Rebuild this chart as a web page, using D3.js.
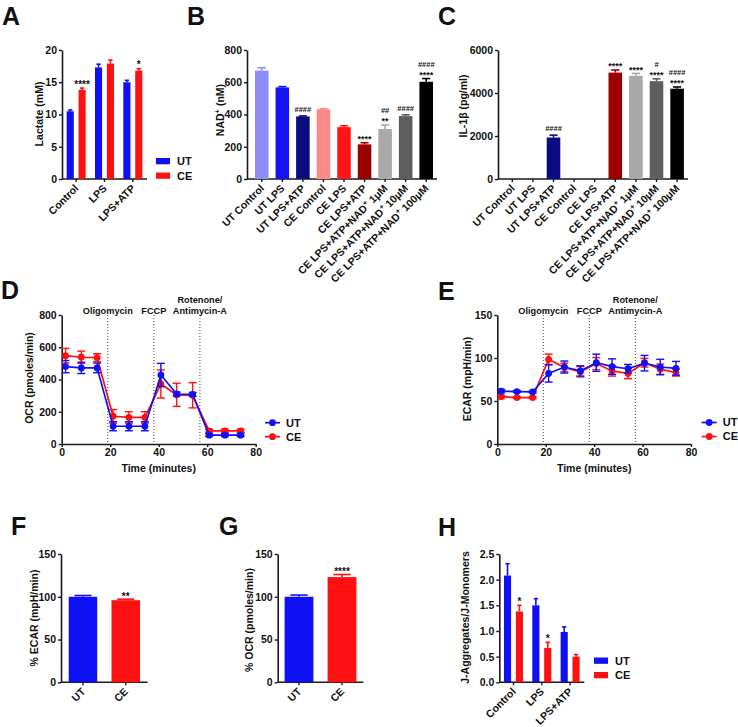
<!DOCTYPE html>
<html><head><meta charset="utf-8">
<script src="https://cdn.jsdelivr.net/npm/d3@7"></script>
<style>
body{margin:0;background:#fff;}
svg text{font-family:"Liberation Sans",Arial,Helvetica,sans-serif;font-weight:bold;fill:#111;}
</style></head><body>
<svg id="fig" width="738" height="727"></svg>
<script>
// ================= DATA =================
const seriesNames = ["UT", "CE"];

// A: Lactate (mM)
const lactateGroups = ["Control", "LPS", "LPS+ATP"];
const lactateUT = [10.5, 17.3, 15.0];
const lactateUTErr = [0.2, 0.5, 0.3];
const lactateCE = [13.8, 17.9, 16.8];
const lactateCEErr = [0.3, 0.55, 0.3];
const lactateCESig = [["****"], [], ["*"]];

// B: NAD+ (nM)
const nadCats = ["UT Control", "UT LPS", "UT LPS+ATP", "CE Control", "CE LPS", "CE LPS+ATP",
  "CE LPS+ATP+NAD^+ 1μM", "CE LPS+ATP+NAD^+ 10μM", "CE LPS+ATP+NAD^+ 100μM"];
const nadValues = [672, 568, 388, 432, 322, 215, 310, 390, 603];
const nadErr = [18, 5, 3, 3, 8, 10, 25, 8, 20];
const nadSig = [[], [], ["####"], [], [], ["****"], ["##", "**"], ["####"], ["####", "****"]];

// C: IL-1β (pg/ml)
const il1Cats = nadCats;
const il1Values = [0, 0, 1930, 0, 0, 4950, 4800, 4550, 4200];
const il1Err = [0, 0, 110, 0, 0, 120, 110, 110, 80];
const il1Sig = [[], [], ["####"], [], [], ["****"], ["****"], ["#", "****"], ["####", "****"]];

// D / E: Seahorse time course
const timeMin = [1.6, 8.1, 14.6, 21.2, 27.7, 34.3, 40.9, 47.4, 54.0, 60.8, 67.3, 73.8];
const injectTimes = [19, 38, 57];
const injectLabels = [["Oligomycin"], ["FCCP"], ["Rotenone/", "Antimycin-A"]];
const ocrUT = [480, 472, 472, 110, 110, 110, 428, 310, 308, 55, 55, 55];
const ocrUTErr = [38, 35, 30, 28, 28, 28, 72, 12, 12, 8, 8, 8];
const ocrCE = [548, 538, 535, 172, 165, 165, 372, 305, 302, 82, 82, 82];
const ocrCEErr = [45, 38, 25, 42, 35, 35, 87, 72, 78, 10, 10, 10];
const ecarUT = [61.5, 61, 60.5, 82, 89.5, 85, 94.5, 90, 87.5, 94, 89.5, 88];
const ecarUTErr = [2, 1, 1, 10, 7, 6, 10, 9, 5, 9, 9, 8];
const ecarCE = [55, 54, 54, 98.5, 89, 84, 93.5, 85, 82, 94.5, 87, 83];
const ecarCEErr = [1.5, 1, 1, 6, 5, 6, 7, 6, 6, 5, 6, 4];

// F: % ECAR, G: % OCR
const pctCats = ["UT", "CE"];
const ecarPct = [100, 96];
const ecarPctErr = [1.5, 1.2];
const ecarPctSig = [[], ["**"]];
const ocrPct = [100, 123];
const ocrPctErr = [2, 3];
const ocrPctSig = [[], ["****"]];

// H: J-Aggregates / J-Monomers
const jcGroups = ["Control", "LPS", "LPS+ATP"];
const jcUT = [2.08, 1.5, 0.98];
const jcUTErr = [0.23, 0.13, 0.1];
const jcCE = [1.38, 0.67, 0.5];
const jcCEErr = [0.12, 0.11, 0.04];
const jcCESig = [["*"], ["*"], []];

// ================= STYLE =================
const BLUE = "#1010f5", RED = "#ff1010", INK = "#1a1a1a";
const seriesColors = {UT: BLUE, CE: RED};
const nadColors = ["#8c8cf6", "#1414f2", "#0b0b82", "#ff8787", "#ff1616", "#9a0000", "#a9a9a9", "#5e5e5e", "#000000"];
const TICK_FS = 10.5, TITLE_FS = 10.5;

const svg = d3.select("#fig");

function rich(t, str, fs) {
  const parts = str.split("^+");
  parts.forEach((p, i) => {
    if (i > 0) {
      t.append("tspan").attr("dy", -4).attr("font-size", fs * 0.72).text("+");
      t.append("tspan").attr("dy", 4).text(p);
    } else t.append("tspan").text(p);
  });
}
function letter(s, x, y) {
  svg.append("text").attr("x", x).attr("y", y).attr("font-size", 25).text(s);
}
function styleAxis(a) {
  a.select(".domain").attr("stroke", INK).attr("stroke-width", 1.6);
  a.selectAll(".tick line").attr("stroke", INK).attr("stroke-width", 1.4);
  a.selectAll(".tick text").attr("font-size", TICK_FS);
}
function yTitle(str, cx, cy, fs) {
  const t = svg.append("text").attr("transform", `translate(${cx},${cy}) rotate(-90)`)
    .attr("text-anchor", "middle").attr("dy", "0.35em").attr("font-size", fs || TITLE_FS);
  rich(t, str, fs || TITLE_FS);
}

// ---------- bar panel ----------
function barPanel(cfg) {
  const y = d3.scaleLinear().domain(cfg.yDomain).range([cfg.yBottom, cfg.yTop]);
  const x = d3.scaleBand().domain(cfg.cats).range(cfg.xRange)
    .paddingInner(cfg.pI || 0).paddingOuter(cfg.pO || 0);
  const grouped = cfg.series.length > 1;
  const x1 = d3.scaleBand().domain(cfg.series.map(s => s.name))
    .range(cfg.innerRange || [-9.5, 9.5]).paddingInner(0.4);
  const bw = grouped ? x1.bandwidth() : x.bandwidth();

  const ya = svg.append("g").attr("transform", `translate(${cfg.axisX},0)`)
    .call(d3.axisLeft(y).tickValues(cfg.yTicks).tickFormat(cfg.yFmt || d3.format("d"))
      .tickSize(3).tickSizeOuter(0).tickPadding(2));
  styleAxis(ya);
  const xa = svg.append("g").attr("transform", `translate(0,${y(0)})`)
    .call(d3.axisBottom(x).tickSize(3).tickFormat(""));
  xa.select(".domain").remove();
  styleAxis(xa);
  svg.append("line").attr("x1", cfg.axisX).attr("x2", cfg.axisEnd)
    .attr("y1", y(0)).attr("y2", y(0)).attr("stroke", INK).attr("stroke-width", 1.6);

  cfg.series.forEach(s => {
    const data = cfg.cats.map((c, i) => ({
      c, v: s.values[i], e: s.errs[i],
      col: Array.isArray(s.color) ? s.color[i] : s.color,
      sig: s.sig ? s.sig[i] : []
    }));
    const bx = d => grouped ? x(d.c) + x.bandwidth() / 2 + x1(s.name) : x(d.c);
    const g = svg.append("g");
    g.selectAll("rect").data(data.filter(d => d.v > 0)).join("rect")
      .attr("x", bx).attr("y", d => y(d.v)).attr("width", bw)
      .attr("height", d => y(0) - y(d.v)).attr("fill", d => d.col);
    const ed = data.filter(d => d.e > 0);
    g.selectAll("line.ev").data(ed).join("line").attr("class", "ev")
      .attr("x1", d => bx(d) + bw / 2).attr("x2", d => bx(d) + bw / 2)
      .attr("y1", d => y(d.v)).attr("y2", d => y(d.v + d.e))
      .attr("stroke", d => d.col).attr("stroke-width", 1.6);
    g.selectAll("line.ec").data(ed).join("line").attr("class", "ec")
      .attr("x1", d => bx(d) + bw * 0.2).attr("x2", d => bx(d) + bw * 0.8)
      .attr("y1", d => y(d.v + d.e)).attr("y2", d => y(d.v + d.e))
      .attr("stroke", d => d.col).attr("stroke-width", 1.6);
    data.forEach(d => {
      const cap = y(d.v + d.e);
      const marks = d.sig.slice().reverse();
      marks.forEach((m, i) => {
        const isHash = m[0] === "#";
        const fs = isHash ? cfg.hashFs : cfg.starFs;
        const base = isHash ? cap - 4 - 8 * i : cap - cfg.starLift - 8 * i;
        svg.append("text").attr("x", bx(d) + bw / 2).attr("y", base)
          .attr("text-anchor", "middle").attr("font-size", fs)
          .style("fill", "#111").text(m);
      });
    });
  });

  cfg.cats.forEach(c => {
    const cx = x(c) + x.bandwidth() / 2;
    const t = svg.append("text")
      .attr("transform", `translate(${cx + 3},${y(0) + 10}) rotate(-45)`)
      .attr("text-anchor", "end").attr("font-size", TICK_FS);
    rich(t, c, TICK_FS);
  });
  return {x, y};
}

// ---------- line panel ----------
function linePanel(cfg) {
  const x = d3.scaleLinear().domain([0, 80]).range([cfg.x0, cfg.x1]);
  const y = d3.scaleLinear().domain(cfg.yDomain).range([cfg.yBottom, cfg.yTop]);
  const ya = svg.append("g").attr("transform", `translate(${cfg.x0},0)`)
    .call(d3.axisLeft(y).tickValues(cfg.yTicks).tickSize(3).tickSizeOuter(0).tickPadding(2));
  styleAxis(ya);
  const xa = svg.append("g").attr("transform", `translate(0,${cfg.yBottom})`)
    .call(d3.axisBottom(x).tickValues([0, 20, 40, 60, 80]).tickSize(3).tickSizeOuter(0).tickPadding(2));
  styleAxis(xa);
  svg.append("text").attr("x", (cfg.x0 + cfg.x1) / 2).attr("y", cfg.yBottom + 28)
    .attr("text-anchor", "middle").attr("font-size", TITLE_FS).text("Time (minutes)");

  injectTimes.forEach((t, i) => {
    svg.append("line").attr("x1", x(t)).attr("x2", x(t)).attr("y1", cfg.yTop).attr("y2", cfg.yBottom)
      .attr("stroke", "#444").attr("stroke-width", 1).attr("stroke-dasharray", "1,2");
    const lines = injectLabels[i];
    lines.forEach((l, j) => {
      svg.append("text").attr("x", x(t)).attr("y", cfg.yTop - 1.5 - (lines.length - 1 - j) * 10.5)
        .attr("text-anchor", "middle").attr("font-size", 9.2).text(l);
    });
  });

  cfg.series.forEach(s => {
    const data = timeMin.map((t, i) => ({t, v: s.values[i], e: s.errs[i]}));
    const g = svg.append("g");
    g.selectAll("line.ev").data(data).join("line").attr("class", "ev")
      .attr("x1", d => x(d.t)).attr("x2", d => x(d.t))
      .attr("y1", d => y(d.v - d.e)).attr("y2", d => y(d.v + d.e))
      .attr("stroke", s.color).attr("stroke-width", 1.4);
    [-1, 1].forEach(sg => {
      g.selectAll("line.c" + (sg + 1)).data(data).join("line").attr("class", "c" + (sg + 1))
        .attr("x1", d => x(d.t) - 4).attr("x2", d => x(d.t) + 4)
        .attr("y1", d => y(d.v + sg * d.e)).attr("y2", d => y(d.v + sg * d.e))
        .attr("stroke", s.color).attr("stroke-width", 1.4);
    });
    g.append("path").datum(data)
      .attr("d", d3.line().x(d => x(d.t)).y(d => y(d.v)))
      .attr("fill", "none").attr("stroke", s.color).attr("stroke-width", 1.7);
    g.selectAll("circle").data(data).join("circle")
      .attr("cx", d => x(d.t)).attr("cy", d => y(d.v)).attr("r", 3.4).attr("fill", s.color);
  });

  cfg.series.slice().reverse().forEach((s, i) => {
    const ly = cfg.legY + i * 14;
    svg.append("line").attr("x1", cfg.legX).attr("x2", cfg.legX + 15).attr("y1", ly).attr("y2", ly)
      .attr("stroke", s.color).attr("stroke-width", 1.7);
    svg.append("circle").attr("cx", cfg.legX + 7.5).attr("cy", ly).attr("r", 3.4).attr("fill", s.color);
    svg.append("text").attr("x", cfg.legX + 21).attr("y", ly).attr("dy", "0.35em")
      .attr("font-size", 11).text(s.name);
  });
}

function rectLegend(x0, y0) {
  seriesNames.forEach((n, i) => {
    svg.append("rect").attr("x", x0).attr("y", y0 + i * 14.5).attr("width", 14).attr("height", 6.3)
      .attr("fill", seriesColors[n]);
    svg.append("text").attr("x", x0 + 21).attr("y", y0 + i * 14.5 + 3.2).attr("dy", "0.35em")
      .attr("font-size", 11).text(n);
  });
}

// ================= PANELS =================
letter("A", 2, 25);
barPanel({
  cats: lactateGroups, xRange: [62, 147], axisX: 62, axisEnd: 147,
  yDomain: [0, 20], yTop: 50, yBottom: 179, yTicks: [0, 5, 10, 15, 20],
  series: [
    {name: "UT", values: lactateUT, errs: lactateUTErr, color: BLUE},
    {name: "CE", values: lactateCE, errs: lactateCEErr, color: RED, sig: lactateCESig}
  ],
  starFs: 10, hashFs: 8, starLift: 0.5
});
yTitle("Lactate (mM)", 39, 114);
rectLegend(156, 158);

letter("B", 187, 25);
barPanel({
  cats: nadCats, xRange: [251.5, 436.5], pI: 0.34, pO: 0.17, axisX: 247, axisEnd: 437,
  yDomain: [0, 800], yTop: 50, yBottom: 179, yTicks: [0, 200, 400, 600, 800],
  series: [{name: "NAD", values: nadValues, errs: nadErr, color: nadColors, sig: nadSig}],
  starFs: 9, hashFs: 7.5, starLift: 0.5
});
yTitle("NAD^+ (nM)", 220, 110);

letter("C", 438, 25);
barPanel({
  cats: il1Cats, xRange: [502, 687.4], pI: 0.34, pO: 0.17, axisX: 498, axisEnd: 688,
  yDomain: [0, 6000], yTop: 50, yBottom: 179, yTicks: [0, 2000, 4000, 6000],
  series: [{name: "IL1", values: il1Values, errs: il1Err, color: nadColors, sig: il1Sig}],
  starFs: 9, hashFs: 7.5, starLift: 0.5
});
yTitle("IL-1β (pg/ml)", 463, 106);

letter("D", 1, 299);
linePanel({
  x0: 61.7, x1: 255.7, yTop: 315, yBottom: 444, yDomain: [0, 800], yTicks: [0, 200, 400, 600, 800],
  series: [
    {name: "CE", values: ocrCE, errs: ocrCEErr, color: RED},
    {name: "UT", values: ocrUT, errs: ocrUTErr, color: BLUE}
  ],
  legX: 265, legY: 422.7
});
yTitle("OCR (pmoles/min)", 29, 378);

letter("E", 438, 300);
linePanel({
  x0: 497.3, x1: 691, yTop: 315, yBottom: 444, yDomain: [0, 150], yTicks: [0, 50, 100, 150],
  series: [
    {name: "CE", values: ecarCE, errs: ecarCEErr, color: RED},
    {name: "UT", values: ecarUT, errs: ecarUTErr, color: BLUE}
  ],
  legX: 701.7, legY: 422.5
});
yTitle("ECAR (mpH/min)", 467, 379);

letter("F", 11, 535);
barPanel({
  cats: pctCats, xRange: [61, 147.7], pI: 0.334, pO: 0.18, axisX: 61, axisEnd: 147.7,
  yDomain: [0, 150], yTop: 554, yBottom: 682.3, yTicks: [0, 50, 100, 150],
  series: [{name: "ECAR", values: ecarPct, errs: ecarPctErr, color: [BLUE, RED], sig: ecarPctSig}],
  starFs: 10, hashFs: 8, starLift: -0.5
});
yTitle("% ECAR (mpH/min)", 34, 618);

letter("G", 219, 535);
barPanel({
  cats: pctCats, xRange: [277.7, 363.3], pI: 0.33, pO: 0.16, axisX: 277.7, axisEnd: 363.3,
  yDomain: [0, 150], yTop: 554, yBottom: 682.3, yTicks: [0, 50, 100, 150],
  series: [{name: "OCR", values: ocrPct, errs: ocrPctErr, color: [BLUE, RED], sig: ocrPctSig}],
  starFs: 10, hashFs: 8, starLift: -0.5
});
yTitle("% OCR (pmoles/min)", 249, 620);

letter("H", 438, 536);
barPanel({
  cats: jcGroups, xRange: [499.3, 584.3], axisX: 499.3, axisEnd: 584.3,
  yDomain: [0, 2.5], yTop: 554, yBottom: 682.3, yTicks: [0, 0.5, 1, 1.5, 2, 2.5], yFmt: d3.format(".1f"),
  series: [
    {name: "UT", values: jcUT, errs: jcUTErr, color: BLUE},
    {name: "CE", values: jcCE, errs: jcCEErr, color: RED, sig: jcCESig}
  ],
  starFs: 10, hashFs: 8, starLift: 0.5
});
yTitle("J-Aggregates/J-Monomers", 465, 617.5);
rectLegend(594, 657.5);
</script>
</body></html>
